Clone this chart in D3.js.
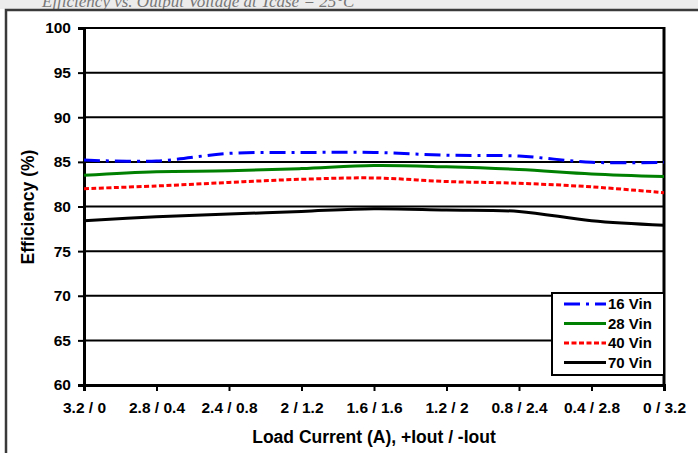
<!DOCTYPE html>
<html><head><meta charset="utf-8">
<script src="https://cdn.jsdelivr.net/npm/d3@7"></script>
<style>body{margin:0;background:#fff}svg{display:block}</style>
</head><body>
<svg id="c" width="698" height="453"></svg>
<script>
const categories = ["3.2 / 0","2.8 / 0.4","2.4 / 0.8","2 / 1.2","1.6 / 1.6","1.2 / 2","0.8 / 2.4","0.4 / 2.8","0 / 3.2"];
const vin16 = [85.2, 85.1, 85.95, 86.05, 86.05, 85.75, 85.65, 84.95, 84.95];
const vin28 = [83.5, 83.9, 84.0, 84.25, 84.6, 84.45, 84.15, 83.65, 83.35];
const vin40 = [82.0, 82.3, 82.7, 83.05, 83.2, 82.8, 82.6, 82.2, 81.55];
const vin70 = [78.4, 78.85, 79.15, 79.45, 79.75, 79.6, 79.45, 78.4, 77.9];
const seriesNames = ["16 Vin","28 Vin","40 Vin","70 Vin"];
const yTicks = [60,65,70,75,80,85,90,95,100];

const svg = d3.select("#c");
const L = 84, R = 664, T = 28, B = 385;
const FONT = "Liberation Sans";

// top gray strip with cut-off title
svg.append("rect").attr("x",0).attr("y",0).attr("width",698).attr("height",9).attr("fill","#ececec");
svg.append("text").attr("x",42).attr("y",7).attr("font-family","Liberation Serif").attr("font-style","italic")
  .attr("font-size",17).attr("fill","#777").text("Efficiency vs. Output Voltage at Tcase = 25°C");
svg.append("rect").attr("x",0).attr("y",9).attr("width",698).attr("height",444).attr("fill","#fff");
// outer frame
svg.append("path").attr("d","M6,453 V10 H698").attr("fill","none").attr("stroke","#3a3a3a").attr("stroke-width",2.5);

const x = d3.scalePoint().domain(categories).range([L,R]);
const y = d3.scaleLinear().domain([60,100]).range([B,T]);

// gridlines
svg.append("g").selectAll("line").data(yTicks.slice(1)).join("line")
  .attr("x1",L).attr("x2",R).attr("y1",d=>y(d)).attr("y2",d=>y(d))
  .attr("stroke","#000").attr("stroke-width",2);
// right border
svg.append("line").attr("x1",R).attr("x2",R).attr("y1",T-1).attr("y2",B).attr("stroke","#000").attr("stroke-width",3);

// y axis
const ya = svg.append("g").attr("transform",`translate(${L},0)`)
  .call(d3.axisLeft(y).tickValues(yTicks).tickSize(6).tickPadding(7));
ya.select(".domain").attr("stroke","#000").attr("stroke-width",3);
ya.selectAll(".tick line").attr("stroke","#000").attr("stroke-width",2);
ya.selectAll("text").attr("font-family",FONT).attr("font-weight","bold").attr("font-size",15.5).attr("fill","#000");

// x axis
const xa = svg.append("g").attr("transform",`translate(0,${B})`)
  .call(d3.axisBottom(x).tickSize(6).tickPadding(11));
xa.select(".domain").attr("stroke","#000").attr("stroke-width",3);
xa.selectAll(".tick line").attr("stroke","#000").attr("stroke-width",2);
xa.selectAll("text").attr("font-family",FONT).attr("font-weight","bold").attr("font-size",15.5).attr("fill","#000");

// axis titles
svg.append("text").attr("x",374).attr("y",443).attr("text-anchor","middle")
  .attr("font-family",FONT).attr("font-weight","bold").attr("font-size",17.5).text("Load Current (A), +Iout / -Iout");
svg.append("text").attr("transform","translate(34,207) rotate(-90)").attr("text-anchor","middle")
  .attr("font-family",FONT).attr("font-weight","bold").attr("font-size",17.5).text("Efficiency (%)");

const styles = [
  {data:vin16, color:"#0000ff", dash:"16,6,3,6"},
  {data:vin28, color:"#008000", dash:null},
  {data:vin40, color:"#ff0000", dash:"5,2.5"},
  {data:vin70, color:"#000000", dash:null}
];
const line = d3.line().x((d,i)=>x(categories[i])).y(d=>y(d)).curve(d3.curveCatmullRom.alpha(0.5));
styles.forEach(s=>{
  svg.append("path").attr("d",line(s.data)).attr("fill","none").attr("stroke",s.color)
    .attr("stroke-width",3).attr("stroke-dasharray",s.dash);
});

// legend
const lg = svg.append("g");
lg.append("rect").attr("x",552).attr("y",293).attr("width",112).attr("height",82).attr("fill","#fff").attr("stroke","#000").attr("stroke-width",2);
styles.forEach((s,i)=>{
  const yy = 304 + i*19.5;
  lg.append("line").attr("x1",564).attr("x2",606).attr("y1",yy).attr("y2",yy).attr("stroke",s.color).attr("stroke-width",3).attr("stroke-dasharray",s.dash);
  lg.append("text").attr("x",608).attr("y",yy+5).attr("font-family",FONT).attr("font-weight","bold").attr("font-size",15).text(seriesNames[i]);
});
</script>
</body></html>
